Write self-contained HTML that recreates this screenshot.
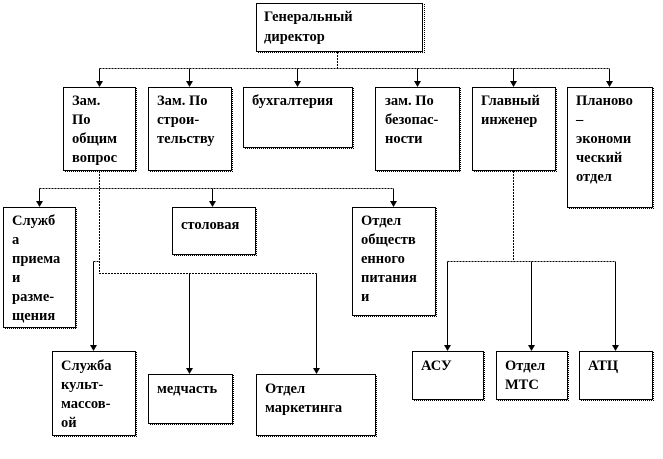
<!DOCTYPE html>
<html><head><meta charset="utf-8"><style>
html,body{margin:0;padding:0;background:#fff;width:663px;height:459px;overflow:hidden}
svg text{font-family:"Liberation Serif","DejaVu Serif",serif;font-weight:bold;font-size:14.5px;fill:#000}
</style></head><body>
<svg width="663" height="459" viewBox="0 0 663 459" xmlns="http://www.w3.org/2000/svg">
<defs>
<g id="ah"><polygon points="-3.5,-6 3.5,-6 0,0" fill="#000"/></g>
</defs>
<g fill="#fff" stroke="#000" stroke-width="1">
<g stroke="#000" stroke-dasharray="1,1" fill="none">
<path d="M258 52.5H424.5V4"/>
<path d="M65 171.5H136.5V88"/><path d="M150 171.5H232.5V88"/><path d="M245 148.5H353.5V88"/>
<path d="M377 171.5H460.5V88"/><path d="M474 171.5H556.5V88"/><path d="M569 208.5H653.5V88"/>
<path d="M5 328.5H76.5V208"/><path d="M174 255.5H256.5V208"/><path d="M354 316.5H436.5V208"/>
<path d="M54 436.5H136.5V352"/><path d="M150 424.5H233.5V375"/><path d="M258 436.5H376.5V375"/>
<path d="M414 400.5H484.5V352"/><path d="M498 400.5H568.5V352"/><path d="M581 400.5H653.5V352"/>
</g>
<rect x="256.5" y="3.5" width="166" height="48"/>
<rect x="63.5" y="87.5" width="72" height="83"/>
<rect x="148.5" y="87.5" width="83" height="83"/>
<rect x="243.5" y="87.5" width="109" height="60"/>
<rect x="375.5" y="87.5" width="84" height="83"/>
<rect x="472.5" y="87.5" width="83" height="83"/>
<rect x="567.5" y="87.5" width="85" height="120"/>
<rect x="3.5" y="207.5" width="72" height="120"/>
<rect x="172.5" y="207.5" width="83" height="47"/>
<rect x="352.5" y="207.5" width="83" height="108"/>
<rect x="52.5" y="351.5" width="83" height="84"/>
<rect x="148.5" y="374.5" width="84" height="49"/>
<rect x="256.5" y="374.5" width="119" height="61"/>
<rect x="412.5" y="351.5" width="71" height="48"/>
<rect x="496.5" y="351.5" width="71" height="48"/>
<rect x="579.5" y="351.5" width="73" height="48"/>
</g>
<g stroke="#000" fill="none" stroke-dasharray="2,1">
<path d="M337.5 52V68.5"/>
<path d="M99.5 68.5H609.5"/>
<path d="M99.5 171V273.5H316.5"/>
<path d="M39.5 188.5H393.5"/>
<path d="M93.5 261.5H99.5"/>
<path d="M513.5 171V261.5"/>
<path d="M447.5 261.5H615.5"/>
</g>
<g stroke="#000" fill="none">
<path d="M99.5 68.5V82M189.5 68.5V82M297.5 68.5V82M417.5 68.5V82M513.5 68.5V82M609.5 68.5V82"/>
<path d="M39.5 188.5V202M212.5 188.5V202M393.5 188.5V202"/>
<path d="M93.5 261.5V346M189.5 273.5V369M316.5 273.5V369"/>
<path d="M447.5 261.5V346M531.5 261.5V346M615.5 261.5V346"/>
</g>
<g>
<use href="#ah" x="99.5" y="87"/><use href="#ah" x="189.5" y="87"/><use href="#ah" x="297.5" y="87"/>
<use href="#ah" x="417.5" y="87"/><use href="#ah" x="513.5" y="87"/><use href="#ah" x="609.5" y="87"/>
<use href="#ah" x="39.5" y="207"/><use href="#ah" x="212.5" y="207"/><use href="#ah" x="393.5" y="207"/>
<use href="#ah" x="93.5" y="351"/><use href="#ah" x="189.5" y="374"/><use href="#ah" x="316.5" y="374"/>
<use href="#ah" x="447.5" y="351"/><use href="#ah" x="531.5" y="351"/><use href="#ah" x="615.5" y="351"/>
</g>
<text x="264" y="21">Генеральный</text><text x="264" y="41">директор</text>
<text x="72" y="105">Зам.</text><text x="72" y="124">По</text><text x="72" y="143">общим</text><text x="72" y="162">вопрос</text>
<text x="157" y="105">Зам. По</text><text x="157" y="124">строи-</text><text x="157" y="143">тельству</text>
<text x="252" y="105">бухгалтерия</text>
<text x="385" y="105">зам. По</text><text x="385" y="124">безопас-</text><text x="385" y="143">ности</text>
<text x="481" y="105">Главный</text><text x="481" y="124">инженер</text>
<text x="576" y="105">Планово</text><text x="576" y="124">–</text><text x="576" y="143">экономи</text><text x="576" y="162">ческий</text><text x="576" y="181">отдел</text>
<text x="12" y="225">Служб</text><text x="12" y="244">а</text><text x="12" y="263">приема</text><text x="12" y="282">и</text><text x="12" y="301">разме-</text><text x="12" y="320">щения</text>
<text x="181" y="229">столовая</text>
<text x="361" y="225">Отдел</text><text x="361" y="244">обществ</text><text x="361" y="263">енного</text><text x="361" y="282">питания</text><text x="361" y="301">и</text>
<text x="61" y="370">Служба</text><text x="61" y="389">культ-</text><text x="61" y="408">массов-</text><text x="61" y="427">ой</text>
<text x="157" y="393">медчасть</text>
<text x="265" y="393">Отдел</text><text x="265" y="412">маркетинга</text>
<text x="421" y="370">АСУ</text>
<text x="505" y="370">Отдел</text><text x="505" y="389">МТС</text>
<text x="588" y="370">АТЦ</text>
</svg>
</body></html>
